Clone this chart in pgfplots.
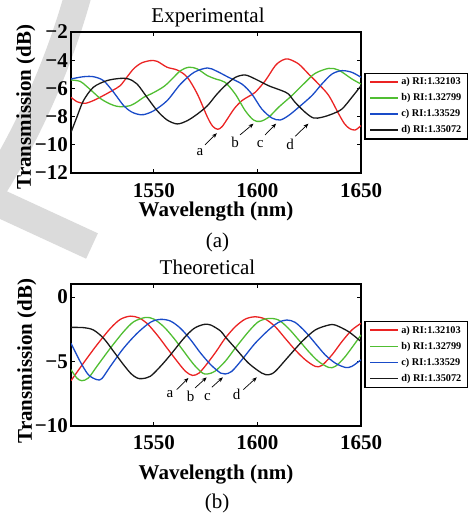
\documentclass[border=0pt]{standalone}
\usepackage{pgfplots}
\pgfplotsset{compat=1.18}
\usepackage{fontspec}
\setmainfont{Liberation Serif}
\usetikzlibrary{arrows.meta}
\definecolor{cred}{RGB}{235,35,35}
\definecolor{cgreen}{RGB}{80,190,50}
\definecolor{cblue}{RGB}{25,75,200}
\definecolor{cblack}{RGB}{25,25,25}
\pgfplotsset{
  myaxis/.style={
    scale only axis, width=290pt,
    xmin=1510, xmax=1650,
    xtick={1550,1600,1650}, xticklabels={1550,1600,1650},
    tick align=inside, major tick length=4pt,
    axis line style={line width=1.3pt},
    every tick/.style={black, line width=0.8pt},
    tick label style={font=\fontsize{21}{24}\selectfont\bfseries, inner sep=0pt},
    yticklabel style={anchor=east, xshift=-3pt},
    label style={font=\fontsize{21}{24}\selectfont\bfseries},
    legend style={draw=black, line width=1.2pt, font=\fontsize{10.3}{12}\selectfont\bfseries,
      inner xsep=4.5pt, inner ysep=2.5pt, row sep=3.6pt,
      cells={anchor=west, text height=7pt, text depth=2pt, inner sep=1pt}},
    legend image code/.code={\draw[#1, line width=1.7pt] (0pt,0pt) -- (28pt,0pt);},
    every axis plot/.append style={line width=1.3pt, smooth, no markers},
  }
}
\begin{document}
\begin{tikzpicture}
\useasboundingbox (0,0) rectangle (469pt,-514pt);
\begin{scope}
\clip (0,0) rectangle (469pt,-514pt);
\draw[gray!28, line width=27pt] (78pt,5pt) .. controls (60pt,-60pt) and (30pt,-130pt) .. (-8pt,-190pt);
\draw[gray!28, line width=28pt] (-12pt,-198pt) -- (92pt,-246pt);
\end{scope}

% ---------------- Experimental ----------------
\begin{axis}[myaxis, at={(71pt,-32pt)}, anchor=north west, height=141pt,
  ymin=-12, ymax=-2, ytick={-12,-10,-8,-6,-4,-2},
  yticklabels={−12,−10,−8,−6,−4,−2},
  xticklabel style={anchor=north, yshift=-10pt},
  xlabel={Wavelength (nm)}, ylabel={Transmission (dB)},
  xlabel style={at={(axis description cs:0.5,-0.307)}, anchor=base},
  ylabel style={at={(axis description cs:-0.138,0.468)}, anchor=base},
  legend style={at={(axis description cs:1.0120,0.7125)}, anchor=north west},
]
\addplot[cred] coordinates {
(1510,-6.63) (1513,-6.95) (1516.8,-7.06) (1521,-6.85) (1525.7,-6.5) (1530,-6.15)
(1533.8,-5.8) (1537,-5.2) (1540.3,-4.6) (1544,-4.2) (1548.3,-4.03) (1551.6,-4.08)
(1556.4,-4.5) (1561.3,-4.7) (1566.1,-5.2) (1571,-6.4) (1575.9,-8.05) (1578.5,-8.7)
(1580.9,-8.9) (1583,-8.7) (1586,-8.05) (1589,-7.4) (1592.5,-6.87) (1596,-6.55)
(1598.9,-6.28) (1603.8,-5.45) (1608.6,-4.39) (1612,-4.0) (1615,-3.92) (1619.9,-4.27)
(1624.7,-4.98) (1629.5,-5.69) (1634.4,-6.5) (1639.2,-7.8) (1642,-8.5) (1644.5,-8.85)
(1647.2,-8.95) (1650,-8.64)};
\addlegendentry{a) RI:1.32103}
\addplot[cgreen] coordinates {
(1510,-5.4) (1514.4,-5.5) (1517.5,-5.85) (1520.8,-6.28) (1524,-6.7) (1527.3,-6.99)
(1530.5,-7.2) (1533.8,-7.3) (1538.6,-7.22) (1542,-6.95) (1545.1,-6.63) (1548.5,-6.4)
(1551.6,-6.16) (1555,-5.85) (1558,-5.45) (1562.9,-4.74) (1567,-4.5) (1571,-4.62)
(1575.9,-5.1) (1580.2,-5.35) (1584.4,-5.57) (1589.3,-6.4) (1594.1,-7.58) (1598.1,-8.24)
(1601.3,-8.34) (1605.4,-8.05) (1610.2,-7.34) (1616.6,-6.51) (1623.1,-5.57) (1627.9,-4.93)
(1634.4,-4.58) (1639.2,-4.7) (1645.6,-5.33) (1650,-5.69)};
\addlegendentry{b) RI:1.32799}
\addplot[cblue] coordinates {
(1510,-5.33) (1516,-5.17) (1520.8,-5.17) (1525.7,-5.45) (1530.6,-6.28) (1535.4,-7.22)
(1539,-7.65) (1541.9,-7.82) (1545.1,-7.86) (1550,-7.58) (1556.4,-6.87) (1562.9,-5.69)
(1569.4,-4.86) (1575.9,-4.55) (1580.2,-4.77) (1586,-5.21) (1592.5,-5.69) (1597.3,-6.4)
(1602.1,-7.46) (1607,-8.1) (1611,-8.24) (1615,-7.93) (1619.9,-7.34) (1626.3,-6.51)
(1631.1,-5.69) (1636,-4.98) (1640.8,-4.74) (1645.6,-4.86) (1650,-5.21)};
\addlegendentry{c) RI:1.33529}
\addplot[cblack] coordinates {
(1510,-9.12) (1512.8,-8.05) (1516,-6.87) (1520.8,-5.92) (1527.3,-5.45) (1533.8,-5.29)
(1537.8,-5.33) (1541.9,-5.69) (1546.7,-6.63) (1551.6,-7.58) (1556.4,-8.24) (1561.3,-8.52)
(1566.1,-8.29) (1571,-7.82) (1575.9,-7.22) (1580.2,-6.45) (1584.4,-5.81) (1589.3,-5.22)
(1594.1,-5.05) (1598.9,-5.33) (1605.4,-5.81) (1611.8,-6.16) (1615,-6.4) (1618.2,-6.99)
(1623.1,-7.7) (1627.1,-8.1) (1631.1,-8.05) (1636,-7.82) (1640.8,-7.46) (1645.6,-6.63)
(1650,-5.81)};
\addlegendentry{d) RI:1.35072}
\draw[-{Stealth[length=5pt,width=4pt]}, line width=0.7pt] (axis cs:1574.7,-10.0) -- (axis cs:1580.4,-9.18);
\draw[-{Stealth[length=5pt,width=4pt]}, line width=0.7pt] (axis cs:1591.6,-9.3) -- (axis cs:1598.1,-8.5);
\draw[-{Stealth[length=5pt,width=4pt]}, line width=0.7pt] (axis cs:1603.7,-9.3) -- (axis cs:1609,-8.5);
\draw[-{Stealth[length=5pt,width=4pt]}, line width=0.7pt] (axis cs:1618.2,-9.4) -- (axis cs:1624.6,-8.5);
\node[font=\fontsize{15}{18}\selectfont] at (axis cs:1572.3,-10.5) {a};
\node[font=\fontsize{15}{18}\selectfont] at (axis cs:1589.2,-9.8) {b};
\node[font=\fontsize{15}{18}\selectfont] at (axis cs:1601.3,-9.95) {c};
\node[font=\fontsize{15}{18}\selectfont] at (axis cs:1615.8,-10.0) {d};
\end{axis}

% ---------------- Theoretical ----------------
\begin{axis}[myaxis, at={(71pt,-284pt)}, anchor=north west, height=142pt,
  ymin=-10, ymax=1, ytick={-10,-5,0},
  yticklabels={−10,−5,0},
  xticklabel style={anchor=north, yshift=-9pt},
  xlabel={Wavelength (nm)}, ylabel={Transmission (dB)},
  xlabel style={at={(axis description cs:0.5,-0.380)}, anchor=base},
  ylabel style={at={(axis description cs:-0.135,0.458)}, anchor=base},
  legend style={at={(axis description cs:1.0120,0.740)}, anchor=north west},
]
\addplot[cred] coordinates {
(1510,-6.49) (1516,-5.13) (1522.5,-3.72) (1529,-2.44) (1533.8,-1.74) (1538.6,-1.49)
(1542.7,-1.62) (1546.7,-2.05) (1551.6,-2.95) (1556.4,-3.97) (1561.3,-5.0) (1565.3,-5.77)
(1568.6,-6.08) (1571.8,-5.9) (1575.9,-5.13) (1580.2,-4.2) (1584.4,-3.21) (1589.3,-2.31)
(1594.1,-1.72) (1598.9,-1.54) (1603.8,-1.72) (1608.6,-2.31) (1613.4,-3.21) (1618.2,-4.1)
(1623.1,-4.87) (1627.9,-5.38) (1631.1,-5.31) (1636,-4.49) (1640.8,-3.46) (1645.6,-2.56)
(1650,-2.05)};
\addlegendentry{a) RI:1.32103}
\addplot[cgreen] coordinates {
(1510,-5.64) (1512.8,-6.28) (1515.2,-6.49) (1518.4,-6.28) (1522.5,-5.38) (1529,-3.97)
(1535.4,-2.69) (1540.3,-1.92) (1546,-1.59) (1550,-1.72) (1554.8,-2.31) (1559.7,-3.21)
(1564.5,-4.23) (1569.4,-5.26) (1573.5,-5.9) (1575.9,-5.97) (1579.4,-5.77) (1584.4,-5.0)
(1589.3,-3.97) (1595.7,-2.69) (1600.5,-1.92) (1605.4,-1.67) (1610.2,-1.79) (1615,-2.44)
(1619.9,-3.33) (1624.7,-4.23) (1629.5,-5.0) (1634.4,-5.46) (1637.6,-5.38) (1642.4,-4.62)
(1650,-2.95)};
\addlegendentry{b) RI:1.32799}
\addplot[cblue] coordinates {
(1510,-3.59) (1514.4,-5.0) (1518.4,-6.03) (1522.5,-6.41) (1524.9,-6.33) (1529,-5.38)
(1535.4,-3.97) (1541.9,-2.82) (1548.3,-1.97) (1553.2,-1.74) (1558,-1.87) (1562.9,-2.44)
(1567.8,-3.33) (1572.6,-4.36) (1577.5,-5.26) (1582.2,-5.9) (1584.4,-5.97) (1587.6,-5.77)
(1592.5,-4.87) (1598.9,-3.59) (1605.4,-2.56) (1610.2,-1.97) (1614.2,-1.79) (1618.2,-1.97)
(1623.1,-2.69) (1627.9,-3.59) (1632.7,-4.49) (1637.6,-5.13) (1642.4,-5.46) (1645.6,-5.38)
(1650,-4.87)};
\addlegendentry{c) RI:1.33529}
\addplot[cblack] coordinates {
(1510,-2.36) (1516,-2.38) (1520.8,-2.56) (1525.7,-3.2) (1530.6,-4.23) (1535.4,-5.26)
(1539,-5.95) (1541.9,-6.28) (1544.3,-6.33) (1548.3,-6.15) (1553.2,-5.38) (1558,-4.49)
(1564.5,-3.2) (1569.4,-2.44) (1574.2,-2.13) (1577.5,-2.18) (1582.2,-2.64) (1584.4,-3.08)
(1589.3,-3.97) (1595.7,-5.13) (1602.1,-5.9) (1605.4,-6.03) (1608.6,-5.77) (1615,-4.62)
(1621.5,-3.46) (1627.9,-2.56) (1634.4,-2.18) (1637.6,-2.18) (1644,-2.69) (1650,-3.46)};
\addlegendentry{d) RI:1.35072}
\draw[-{Stealth[length=5pt,width=4pt]}, line width=0.7pt] (axis cs:1561,-7.18) -- (axis cs:1566.7,-6.28);
\draw[-{Stealth[length=5pt,width=4pt]}, line width=0.7pt] (axis cs:1569.9,-7.05) -- (axis cs:1575.5,-6.23);
\draw[-{Stealth[length=5pt,width=4pt]}, line width=0.7pt] (axis cs:1578,-7.0) -- (axis cs:1583.3,-6.23);
\draw[-{Stealth[length=5pt,width=4pt]}, line width=0.7pt] (axis cs:1593.2,-7.18) -- (axis cs:1599.7,-6.23);
\node[font=\fontsize{15}{18}\selectfont] at (axis cs:1557.8,-7.5) {a};
\node[font=\fontsize{15}{18}\selectfont] at (axis cs:1567.8,-7.7) {b};
\node[font=\fontsize{15}{18}\selectfont] at (axis cs:1575.9,-7.77) {c};
\node[font=\fontsize{15}{18}\selectfont] at (axis cs:1590,-7.56) {d};
\end{axis}

\node[font=\fontsize{21}{24}\selectfont, anchor=base] at (208pt,-23pt) {Experimental};
\node[font=\fontsize{21}{24}\selectfont, anchor=base] at (207.5pt,-274pt) {Theoretical};
\node[font=\fontsize{21}{24}\selectfont, anchor=base] at (217.5pt,-247pt) {(a)};
\node[font=\fontsize{21}{24}\selectfont, anchor=base] at (217pt,-508pt) {(b)};
\end{tikzpicture}
\end{document}
